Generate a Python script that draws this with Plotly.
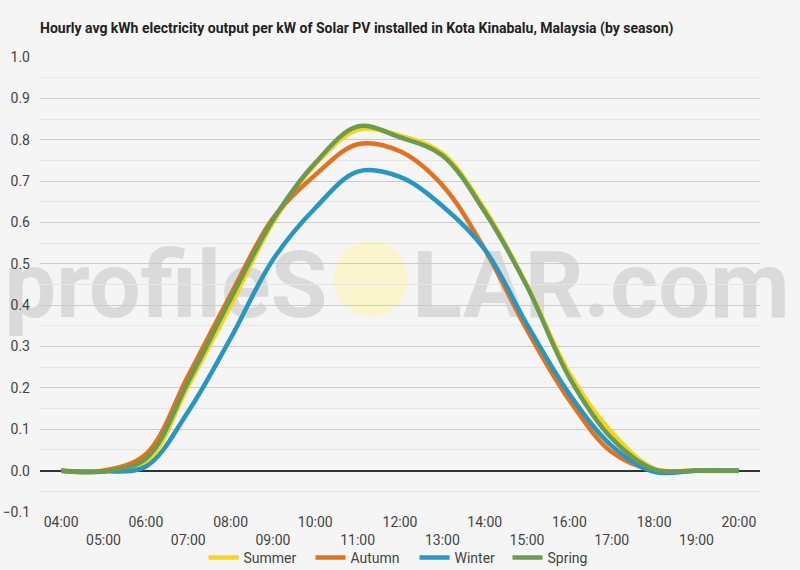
import plotly.graph_objects as go

hours = ["04:00", "05:00", "06:00", "07:00", "08:00", "09:00", "10:00", "11:00",
         "12:00", "13:00", "14:00", "15:00", "16:00", "17:00", "18:00", "19:00", "20:00"]

summer = [0.0, 0.0, 0.020, 0.205, 0.400, 0.600, 0.740, 0.824, 0.810, 0.767, 0.632, 0.447, 0.235, 0.092, 0.005, 0.0, 0.0]
autumn = [0.0, 0.0, 0.040, 0.230, 0.425, 0.610, 0.715, 0.789, 0.772, 0.690, 0.535, 0.340, 0.170, 0.045, 0.0, 0.0, 0.0]
winter = [0.0, -0.002, 0.010, 0.143, 0.320, 0.510, 0.635, 0.723, 0.710, 0.640, 0.535, 0.353, 0.185, 0.060, -0.003, 0.0, 0.0]
spring = [0.0, -0.002, 0.029, 0.215, 0.415, 0.606, 0.744, 0.832, 0.806, 0.762, 0.626, 0.445, 0.225, 0.078, 0.003, 0.0, 0.0]

series = [("Summer", summer, "#f7d417", 62), ("Autumn", autumn, "#e4711f", 59),
          ("Winter", winter, "#2796c2", 48), ("Spring", spring, "#6c9a4e", 44)]

tick_text = [h if i % 2 == 0 else "<br>" + h for i, h in enumerate(hours)]

W, H = 800, 570
L, R, T, B = 40, 40, 57, 58
pw, ph = W - L - R, H - T - B


def px_x(x):
    return (x - L) / pw


def px_y(y):
    return (H - B - y) / ph


fig = go.Figure()
for name, vals, col, lw in series:
    fig.add_trace(go.Scatter(x=hours, y=vals, name=name, mode="lines", legendwidth=lw,
                             line=dict(color=col, width=4.5, shape="spline", smoothing=1.0)))

wm_font = dict(family="Roboto", size=92, color="#dadada", weight="bold")
shapes = [
    dict(type="rect", xref="paper", yref="paper", layer="below",
         x0=px_x(-6), x1=px_x(338), y0=px_y(318), y1=px_y(238),
         line=dict(width=0), fillcolor="rgba(0,0,0,0)",
         label=dict(text="profileS", font=wm_font, textposition="middle center")),
    dict(type="rect", xref="paper", yref="paper", layer="below",
         x0=px_x(404), x1=px_x(798), y0=px_y(318), y1=px_y(238),
         line=dict(width=0), fillcolor="rgba(0,0,0,0)",
         label=dict(text="LAR.com", font=wm_font, textposition="middle center")),
    dict(type="circle", xref="paper", yref="paper", layer="below",
         x0=px_x(333), x1=px_x(408), y0=px_y(317), y1=px_y(241),
         line=dict(width=0), fillcolor="#faf5cc"),
]

fig.update_layout(
    width=W, height=H,
    margin=dict(l=L, r=R, t=T, b=B, autoexpand=False),
    paper_bgcolor="#f5f5f5", plot_bgcolor="#f5f5f5",
    font=dict(family="Roboto", size=14, color="#444444"),
    title=dict(text="<b>Hourly avg kWh electricity output per kW of Solar PV installed in Kota Kinabalu, Malaysia (by season)</b>",
               x=40 / W, xanchor="left", xref="container",
               y=1 - 28 / H, yanchor="middle", yref="container",
               font=dict(family="Roboto", size=14, color="#222222")),
    showlegend=True,
    legend=dict(orientation="h", x=0.5, xanchor="center", y=px_y(558), yanchor="middle",
                font=dict(size=14, color="#444444"), bgcolor="rgba(0,0,0,0)",
                itemwidth=30, traceorder="normal"),
    shapes=shapes,
)

fig.update_xaxes(type="category", range=[-0.5, 16.5], tickmode="array",
                 tickvals=hours, ticktext=tick_text, showgrid=False,
                 ticks="", showline=False, zeroline=False, automargin=False,
                 tickfont=dict(size=14, color="#444444"))

fig.update_yaxes(range=[-0.1, 1.0], dtick=0.1, tick0=0, tickformat=".1f",
                 showgrid=True, gridcolor="#cccccc", gridwidth=1,
                 zeroline=True, zerolinecolor="#333333", zerolinewidth=1.5,
                 minor=dict(dtick=0.05, showgrid=True, gridcolor="#e6e6e6", gridwidth=1),
                 ticks="", ticklabelstandoff=9, automargin=False,
                 tickfont=dict(size=14, color="#444444"))

fig.write_html("out.html")
